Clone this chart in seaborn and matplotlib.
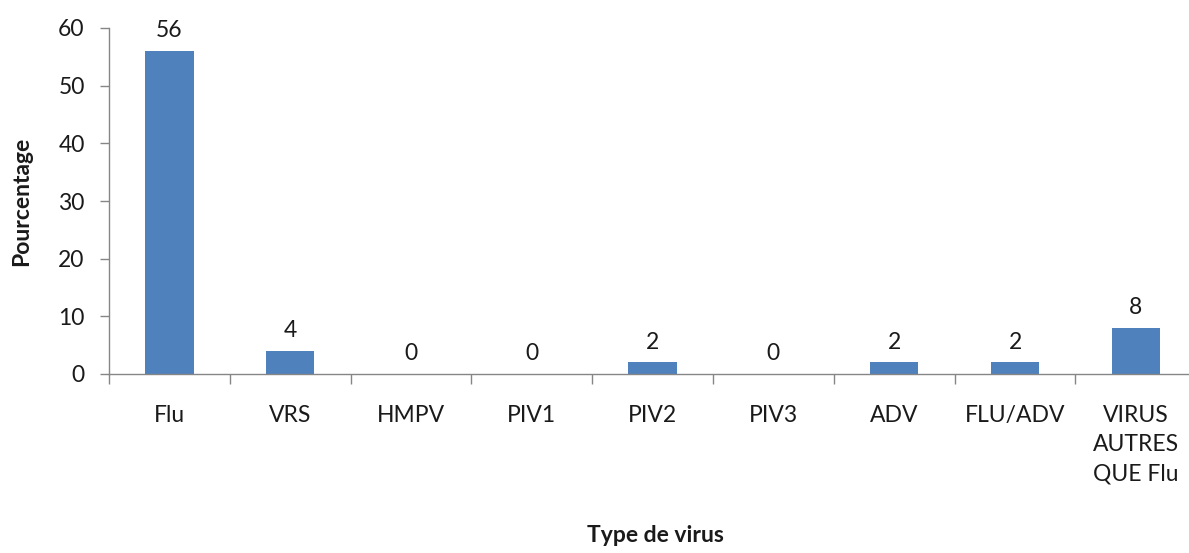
import matplotlib
matplotlib.use("Agg")
import matplotlib.pyplot as plt
from matplotlib.ticker import FixedLocator, NullFormatter
import seaborn as sns
import pandas as pd

categories = ["Flu", "VRS", "HMPV", "PIV1", "PIV2", "PIV3", "ADV", "FLU/ADV",
              "VIRUS\nAUTRES\nQUE Flu"]
percentages = [56, 4, 0, 0, 2, 0, 2, 2, 8]
y_ticks = [0, 10, 20, 30, 40, 50, 60]

sns.set_theme(style="white")
plt.rcParams["font.family"] = ["Lato", "DejaVu Sans"]

bar_color = "#4F81BD"
axis_color = "#868686"
text_color = "#1a1a1a"
fs = 16.5

df = pd.DataFrame({"virus": categories, "pct": percentages})

fig = plt.figure(figsize=(11.89, 5.53), dpi=100)
ax = fig.add_axes([109 / 1189, 1 - 374 / 553, 1 - 109 / 1189, (374 - 28) / 553])

sns.barplot(data=df, x="virus", y="pct", color=bar_color, width=0.4,
            saturation=1, ax=ax, edgecolor="none")

ax.set_ylim(0, 60)
ax.set_xlim(-0.5, -0.5 + 1080 / 120.8)
ax.set_yticks(y_ticks)
ax.set_yticklabels([str(t) for t in y_ticks], fontsize=fs, color=text_color)

# category labels centred under bars, tick marks between categories
ax.set_xticks(range(len(categories)))
ax.set_xticklabels(categories, fontsize=fs, color=text_color, linespacing=1.5,
                   va="top")
ax.xaxis.set_minor_locator(FixedLocator([i - 0.5 for i in range(len(categories) + 1)]))
ax.xaxis.set_minor_formatter(NullFormatter())
ax.tick_params(axis="x", which="major", length=0, pad=22)
ax.tick_params(axis="x", which="minor", length=7, width=1, color=axis_color,
               direction="out", bottom=True)
ax.tick_params(axis="y", which="major", length=6.5, width=1, color=axis_color,
               direction="out", left=True, pad=11)

for side in ["top", "right"]:
    ax.spines[side].set_visible(False)
for side in ["left", "bottom"]:
    ax.spines[side].set_color(axis_color)
    ax.spines[side].set_linewidth(1)

ax.set_xlabel("")
ax.set_ylabel("")

for i, v in enumerate(percentages):
    ax.annotate(str(v), (i, v), xytext=(0, 7), textcoords="offset points",
                ha="center", va="bottom", fontsize=fs, color=text_color)

fig.text(22 / 1189, 1 - 201 / 553, "Pourcentage", rotation=90, ha="center",
         va="center", fontsize=fs, fontweight="bold", color=text_color)
fig.text(655 / 1189, 1 - 536 / 553, "Type de virus", ha="center", va="center",
         fontsize=fs, fontweight="bold", color=text_color)

fig.savefig("out.png", dpi=100, facecolor="white")
